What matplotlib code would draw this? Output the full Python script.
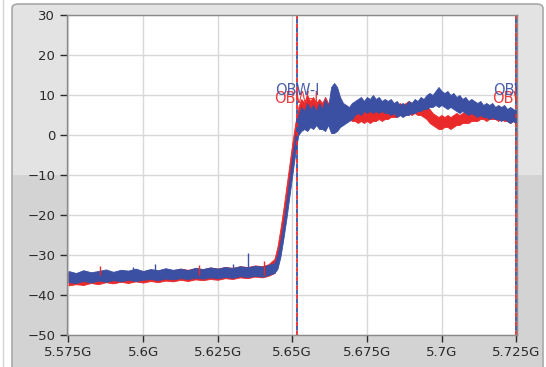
import matplotlib
matplotlib.use("Agg")
import matplotlib.pyplot as plt
from matplotlib.patches import FancyBboxPatch, Rectangle
from matplotlib.lines import Line2D

# ---- segment A: noise floor and the rising edge (GHz / dB) ----
freq_a = [5.575, 5.5775, 5.580, 5.5825, 5.585, 5.5875, 5.590, 5.5925, 5.595, 5.5975,
          5.600, 5.6025, 5.605, 5.6075, 5.610, 5.6125, 5.615, 5.6175, 5.620, 5.6225,
          5.625, 5.6275, 5.630, 5.6325, 5.635, 5.6375, 5.640, 5.642, 5.644, 5.645,
          5.646, 5.647, 5.648, 5.649, 5.650, 5.651, 5.652]
blue_hi_a = [-34.0, -34.5, -33.8, -34.3, -34.0, -33.6, -34.2, -33.7, -33.9, -33.4,
             -34.0, -33.5, -33.8, -33.3, -33.7, -33.4, -33.8, -33.2, -33.5, -33.1,
             -33.4, -33.0, -33.3, -32.8, -33.1, -32.7, -32.9, -32.5, -32.0, -30.0,
             -26.5, -22.0, -16.5, -11.0, -5.0, 0.0, 4.5]
blue_lo_a = [-36.8, -37.0, -36.5, -36.9, -36.4, -36.7, -36.3, -36.6, -36.2, -36.5,
             -36.2, -36.0, -36.3, -35.9, -36.1, -35.8, -36.0, -35.7, -35.9, -35.6,
             -35.8, -35.5, -35.7, -35.3, -35.5, -35.2, -35.4, -35.0, -34.5, -33.5,
             -30.5, -26.0, -21.0, -15.5, -10.0, -4.5, 0.0]
red_hi_a = [-34.3, -34.8, -34.0, -34.6, -34.2, -34.0, -34.5, -33.9, -34.2, -33.8,
            -34.1, -33.7, -34.0, -33.5, -33.9, -33.4, -33.7, -33.3, -33.6, -33.1,
            -33.4, -33.0, -33.2, -32.8, -33.0, -32.6, -32.8, -32.3, -31.0, -28.0,
            -23.5, -18.5, -13.0, -7.5, -2.0, 3.0, 6.5]
red_lo_a = [-37.6, -37.3, -37.5, -37.0, -37.3, -36.8, -37.1, -36.7, -37.0, -36.6,
            -36.9, -36.5, -36.8, -36.4, -36.6, -36.2, -36.5, -36.1, -36.3, -36.0,
            -36.2, -35.8, -36.0, -35.6, -35.8, -35.4, -35.6, -35.2, -34.5, -32.0,
            -28.0, -23.0, -18.0, -12.5, -7.0, -1.5, 2.0]

# ---- segment B: inside the occupied band, 1 MHz steps 5.652 .. 5.725 GHz ----
freq_b = [5.652, 5.653, 5.654, 5.655, 5.656, 5.657, 5.658, 5.659, 5.660, 5.661,
          5.662, 5.663, 5.664, 5.665, 5.666, 5.667, 5.668, 5.669, 5.670, 5.671,
          5.672, 5.673, 5.674, 5.675, 5.676, 5.677, 5.678, 5.679, 5.680, 5.681,
          5.682, 5.683, 5.684, 5.685, 5.686, 5.687, 5.688, 5.689, 5.690, 5.691,
          5.692, 5.693, 5.694, 5.695, 5.696, 5.697, 5.698, 5.699, 5.700, 5.701,
          5.702, 5.703, 5.704, 5.705, 5.706, 5.707, 5.708, 5.709, 5.710, 5.711,
          5.712, 5.713, 5.714, 5.715, 5.716, 5.717, 5.718, 5.719, 5.720, 5.721,
          5.722, 5.723, 5.724, 5.725]
blue_hi_b = [5, 7, 6, 8, 6.5, 7.5, 6, 8, 6.5, 9,
             7, 12, 13, 12, 9.5, 8, 7.5, 7, 8, 8.5,
             9, 9.5, 8.5, 9.5, 9, 10, 9, 9.5, 8.5, 9,
             8.5, 9, 8, 8.5, 7.5, 8, 7.5, 8.5, 8, 9,
             8.5, 9.5, 9, 10, 10.5, 10, 11, 12, 11, 10.5,
             11, 10, 10.5, 9.5, 10, 9, 9.5, 8.5, 9, 8.5,
             8, 8.5, 7.5, 8, 7.5, 8, 7, 7.5, 7, 7.5,
             6.5, 7, 6.5, 6]
blue_lo_b = [0, 1, 1.5, 1, 2, 1.5, 2.5, 1.5, 1.5, 1,
             2.5, 0.5, 0.5, 1, 2, 2.5, 3, 3.5, 4, 5,
             5.5, 5, 6, 5.5, 6, 5.5, 6, 5.5, 6, 5.5,
             5.5, 5, 5.5, 4.5, 5, 4.5, 5, 5, 5.5, 5.5,
             6, 6, 6.5, 6.5, 7, 7, 7.5, 7, 7.5, 7,
             6.5, 7, 6.5, 6, 5.5, 6, 5.5, 5, 5.5, 5,
             4.5, 5, 4.5, 4.5, 4, 4.5, 4, 4, 3.5, 4,
             3.5, 3, 3.5, 3]
red_hi_b = [7, 9, 8, 10, 8.5, 9.5, 8, 9, 8, 9.5,
            8, 8.5, 9, 8, 7.5, 7, 7.5, 6.5, 7, 6.5,
            6, 6.5, 6, 6.5, 6, 7, 6.5, 7, 6.5, 7,
            6.5, 7, 7.5, 7, 8, 7.5, 8, 8.5, 8, 8.5,
            8, 8.5, 7.5, 7, 6.5, 5.5, 5, 4.5, 5, 4.5,
            5, 4.5, 5, 5.5, 5, 5.5, 6, 5.5, 6, 6.5,
            6, 6.5, 7, 6.5, 7, 6.5, 7, 6.5, 7, 6.5,
            6, 6.5, 6, 5.5]
red_lo_b = [2, 3, 4, 3.5, 4.5, 4, 5, 4.5, 5, 4.5,
            5, 5, 5.5, 5, 4.5, 4.5, 4, 4, 3.5, 3.5,
            3, 3.5, 3, 3.5, 3, 3.5, 3.5, 4, 3.5, 4,
            4, 4.5, 4.5, 4.5, 5, 5, 5, 5.5, 5, 5.5,
            5, 5, 4.5, 4, 3, 2.5, 2, 1.5, 1.5, 2,
            2, 1.5, 2, 2.5, 2.5, 3, 3, 3, 3.5, 3.5,
            3.5, 4, 4, 3.5, 4, 4, 4, 3.5, 4, 3.5,
            3.5, 3, 3.5, 3]

# isolated spikes on the noise floor
spike_f = [5.5967, 5.6041, 5.6302, 5.6352]
spike_top = [-33, -32.3, -32.3, -29.5]
red_spike_f = [5.5855, 5.6188, 5.6405]
red_spike_top = [-32.8, -32.5, -31.5]

cursor_f = [5.6516, 5.7248]
cursor_label = "OBW-l"

xticks = [5.575, 5.6, 5.625, 5.65, 5.675, 5.7, 5.725]
xtick_labels = ["5.575G", "5.6G", "5.625G", "5.65G", "5.675G", "5.7G", "5.725G"]
yticks = [-50, -40, -30, -20, -10, 0, 10, 20, 30]

BLUE = "#3b4fa3"
RED = "#ea2a2a"

W, H = 546, 367
fig = plt.figure(figsize=(W / 100, H / 100), dpi=100)
fig.patch.set_facecolor("white")

# panel background (LabVIEW style frame), kept behind the axes
fig.add_artist(Line2D([3 / W, 3 / W], [0, 1], color="#d4d4d4", lw=1, zorder=-3))
panel = FancyBboxPatch((12 / W, -0.05), 531 / W, 1 - 4 / H + 0.05,
                       boxstyle="round,pad=0,rounding_size=0.012",
                       transform=fig.transFigure, facecolor="#e3e3e3",
                       edgecolor="#a8a8a8", lw=1.2, zorder=-3)
fig.add_artist(panel)
fig.add_artist(Rectangle((13 / W, 0), 529 / W, 1 - 175 / H,
                         transform=fig.transFigure, facecolor="#d3d3d3",
                         edgecolor="none", zorder=-2))

ax = fig.add_axes([67 / W, 1 - 335 / H, 450 / W, 320 / H])
ax.set_facecolor("white")

ax.vlines(red_spike_f, [-35] * len(red_spike_f), red_spike_top, color=RED, lw=1)
for fr, lo, hi in [(freq_a, red_lo_a, red_hi_a), (freq_b, red_lo_b, red_hi_b)]:
    ax.fill_between(fr, lo, hi, facecolor=RED, edgecolor=RED, lw=0.6)
for fr, lo, hi in [(freq_a, blue_lo_a, blue_hi_a), (freq_b, blue_lo_b, blue_hi_b)]:
    ax.fill_between(fr, lo, hi, facecolor=BLUE, edgecolor=BLUE, lw=0.6)
ax.vlines(spike_f, [-35] * len(spike_f), spike_top, color=BLUE, lw=1)

for f in cursor_f:
    ax.axvline(f, color=RED, lw=1.3, ls=(0, (2.5, 2.5)))
    ax.axvline(f, color=BLUE, lw=1.3, ls=(2.5, (2.5, 2.5)))
    ax.text(f - 0.0004, 9.2, cursor_label, color=RED, fontsize=10.5,
            ha="center", va="center", clip_on=True, alpha=0.9)
    ax.text(f, 11.2, cursor_label, color=BLUE, fontsize=10.5,
            ha="center", va="center", clip_on=True, alpha=0.9)

ax.set_xlim(5.5745, 5.7253)
ax.set_ylim(-50, 30)
ax.set_xticks(xticks)
ax.set_xticklabels(xtick_labels)
ax.set_yticks(yticks)
ax.grid(True, color="#d8d8d8", lw=1)
ax.set_axisbelow(True)
ax.tick_params(axis="both", direction="out", length=5, width=1,
               colors="#2a2a2a", labelsize=9.5)
ax.tick_params(axis="x", pad=3)
for s in ax.spines.values():
    s.set_color("#8a8a8a")
    s.set_linewidth(1)

fig.savefig("out.png", dpi=100)
